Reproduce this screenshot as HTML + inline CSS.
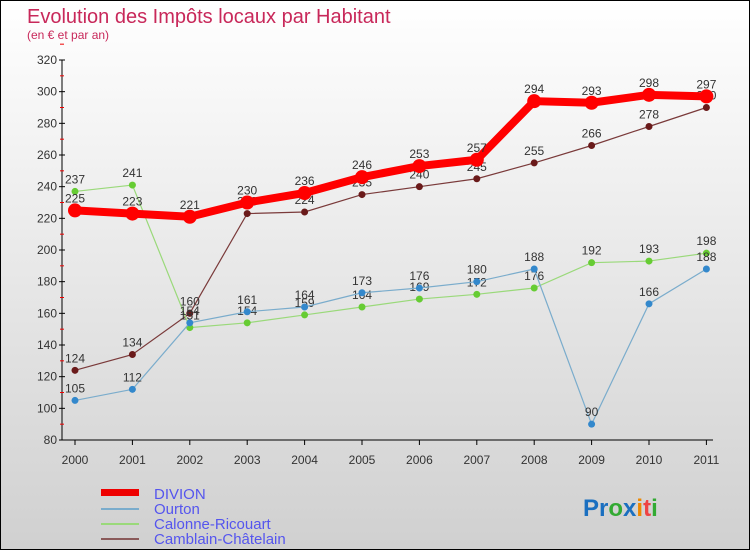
<!DOCTYPE html>
<html><head><meta charset="utf-8"><style>
body{margin:0;width:750px;height:550px;overflow:hidden;font-family:"Liberation Sans",sans-serif}
#wrap{position:relative;width:748px;height:548px;border:1px solid #000;background:linear-gradient(#fff,#d0d0d0)}
</style></head><body>
<div id="wrap">
<svg id="c" width="748" height="548">
<text x="26" y="22" font-size="20" fill="#c8285a">Evolution des Impôts locaux par Habitant</text>
<text x="26" y="38" font-size="12" fill="#c8285a">(en € et par an)</text>
<g id="axes"></g><g id="series"></g>
<g>
<rect x="100" y="488" width="38" height="7" fill="#e00"/>
<text x="153" y="498" font-size="15" fill="#55e">DIVION</text>
<rect x="100" y="507" width="38" height="2" fill="#7aaccc"/>
<text x="153" y="513" font-size="15" fill="#55e">Ourton</text>
<rect x="100" y="522" width="38" height="2" fill="#9ad97a"/>
<text x="153" y="528" font-size="15" fill="#55e">Calonne-Ricouart</text>
<rect x="100" y="537" width="38" height="2" fill="#8a5a5a"/>
<text x="153" y="543" font-size="15" fill="#55e">Camblain-Châtelain</text>
</g>
<text x="582" y="515" font-size="24" font-weight="bold"><tspan fill="#1a6fc0">Pr</tspan><tspan fill="#3a3">o</tspan><tspan fill="#1a6fc0">x</tspan><tspan fill="#e80">i</tspan><tspan fill="#e44">t</tspan><tspan fill="#3a3">i</tspan></text>
</svg></div>
<script>
const years=["2000","2001","2002","2003","2004","2005","2006","2007","2008","2009","2010","2011"];
const yTicks=[80,100,120,140,160,180,200,220,240,260,280,300,320];
const divion=[225,223,221,230,236,246,253,257,294,293,298,297];
const ourton=[105,112,154,161,164,173,176,180,188,90,166,188];
const calonne=[237,241,151,154,159,164,169,172,176,192,193,198];
const camblain=[124,134,160,223,224,235,240,245,255,266,278,290];
const NS="http://www.w3.org/2000/svg";
const X=i=>74+i*57.4, Y=v=>59+(320-v)*380/240;
function mk(t,a,p){const e=document.createElementNS(NS,t);for(const k in a)e.setAttribute(k,a[k]);p.appendChild(e);return e;}
const ax=document.getElementById('axes'),se=document.getElementById('series');
const yl=mk('line',{x1:61,y1:Y(320),x2:61,y2:Y(80),stroke:'#000'},ax);


const xl=mk('line',{x1:61,y1:Y(80),x2:712,y2:Y(80),stroke:'#000'},ax);


yTicks.forEach(v=>{mk('line',{x1:58,y1:Y(v),x2:64,y2:Y(v),stroke:'#000'},ax);
mk('line',{x1:59,y1:Y(v+10),x2:63,y2:Y(v+10),stroke:'#e00'},ax);
const t=mk('text',{x:56,y:Y(v)+4,'font-size':12,fill:'#333','text-anchor':'end'},ax);t.textContent=v;

});
years.forEach((y,i)=>{mk('line',{x1:X(i),y1:Y(80),x2:X(i),y2:Y(80)+5,stroke:'#000'},ax);
const t=mk('text',{x:X(i),y:Y(80)+24,'font-size':12,fill:'#333','text-anchor':'middle'},ax);t.textContent=y;

});
function draw(data,name,color,dot,w,r){
const g=mk('g',{},se);


mk('polyline',{points:data.map((v,i)=>X(i)+','+Y(v)).join(' '),fill:'none',stroke:color,'stroke-width':w},g);
data.forEach((v,i)=>{const c=mk('circle',{cx:X(i),cy:Y(v),r:r,fill:dot},g);


const t=mk('text',{x:X(i),y:Y(v)-8,'font-size':12,fill:'#333','text-anchor':'middle'},g);t.textContent=v;

});}
draw(camblain,'camblain','#7a3a3a','#6a1a1a',1.2,3.5);
draw(calonne,'calonne','#9ad97a','#6c3',1.2,3.5);
draw(ourton,'ourton','#7aaccc','#38c',1.2,3.5);
draw(divion,'divion','#f00','#f00',8,7);
</script></body></html>
